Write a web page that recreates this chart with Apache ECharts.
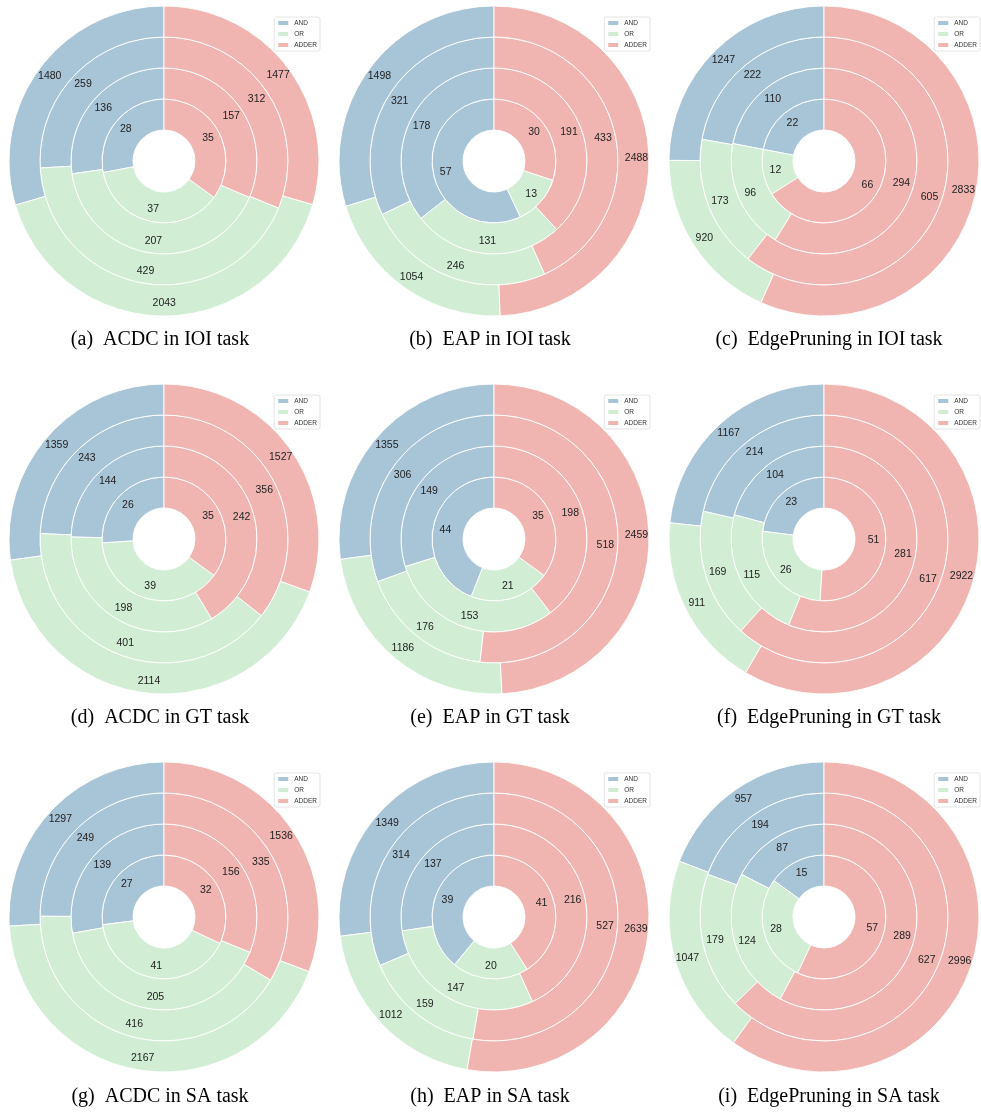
<!DOCTYPE html>
<html>
<head>
<meta charset="utf-8">
<title>Gate composition of discovered circuits</title>
<script src="https://cdn.jsdelivr.net/npm/echarts@6/dist/echarts.min.js"></script>
<style>
  html, body { margin: 0; padding: 0; background: #fff; }
  #chart { width: 981px; height: 1112px; }
</style>
</head>
<body>
<div id="chart"></div>
<script>
// gate types, counts per ring (inner -> outer)
const gateTypes = ['AND', 'OR', 'ADDER'];
const gateColors = ['#a8c4d7', '#d1eed4', '#f0b5b1'];

const panelCaptions = [
  '(a)  ACDC in IOI task', '(b)  EAP in IOI task', '(c)  EdgePruning in IOI task',
  '(d)  ACDC in GT task', '(e)  EAP in GT task', '(f)  EdgePruning in GT task',
  '(g)  ACDC in SA task', '(h)  EAP in SA task', '(i)  EdgePruning in SA task'
];

const andCounts = [
  [28, 136, 259, 1480], [57, 178, 321, 1498], [22, 110, 222, 1247],
  [26, 144, 243, 1359], [44, 149, 306, 1355], [23, 104, 214, 1167],
  [27, 139, 249, 1297], [39, 137, 314, 1349], [15, 87, 194, 957]
];
const orCounts = [
  [37, 207, 429, 2043], [13, 131, 246, 1054], [12, 96, 173, 920],
  [39, 198, 401, 2114], [21, 153, 176, 1186], [26, 115, 169, 911],
  [41, 205, 416, 2167], [20, 147, 159, 1012], [28, 124, 179, 1047]
];
const adderCounts = [
  [35, 157, 312, 1477], [30, 191, 433, 2488], [66, 294, 605, 2833],
  [35, 242, 356, 1527], [35, 198, 518, 2459], [51, 281, 617, 2922],
  [32, 156, 335, 1536], [41, 216, 527, 2639], [57, 289, 627, 2996]
];

const chart = echarts.init(document.getElementById('chart'));

const colX = [164, 494, 824];
const rowY = [161, 539, 917];
const captionX = [160, 490, 829];
const captionY = [340, 718, 1097];
const R = 155;
const ringW = R / 5;

const series = [];
const legends = [];
const graphics = [];

panelCaptions.forEach((caption, p) => {
  const cx = colX[p % 3];
  const cy = rowY[Math.floor(p / 3)];
  const counts = [andCounts[p], orCounts[p], adderCounts[p]];

  for (let k = 0; k < 4; k++) {
    series.push({
      type: 'pie',
      silent: true,
      center: [cx, cy],
      radius: [ringW * (k + 1), ringW * (k + 2)],
      startAngle: 90,
      clockwise: false,
      avoidLabelOverlap: false,
      minAngle: 0,
      itemStyle: { borderColor: '#fff', borderWidth: 0.9 },
      label: {
        show: true,
        position: 'inside',
        formatter: '{c}',
        color: '#222',
        fontSize: 10.5,
        fontFamily: 'Liberation Sans, Arial, sans-serif'
      },
      labelLine: { show: false },
      emphasis: { disabled: true },
      data: gateTypes.map((g, i) => ({
        name: g,
        value: counts[i][k],
        itemStyle: { color: gateColors[i] }
      }))
    });
  }

  // right edge of the legend box sits ~154px right of the pie centre
  legends.push({
    data: gateTypes,
    orient: 'vertical',
    right: 981 - (cx + 156),
    top: cy - 144,
    icon: 'rect',
    itemWidth: 12,
    itemHeight: 6,
    itemGap: 3,
    padding: [2, 3, 2, 2],
    backgroundColor: '#fff',
    borderColor: '#ddd',
    borderWidth: 0.8,
    borderRadius: 2,
    selectedMode: false,
    textStyle: {
      fontSize: 6.5,
      color: '#333',
      fontFamily: 'Liberation Sans, Arial, sans-serif'
    }
  });

  graphics.push({
    type: 'text',
    x: captionX[p % 3],
    y: captionY[Math.floor(p / 3)],
    style: {
      text: caption,
      fill: '#000',
      font: '20px "Liberation Serif", "Times New Roman", serif',
      textAlign: 'center',
      textVerticalAlign: 'middle'
    }
  });
});

chart.setOption({
  animation: false,
  legend: legends,
  series: series,
  graphic: graphics
});
</script>
</body>
</html>
